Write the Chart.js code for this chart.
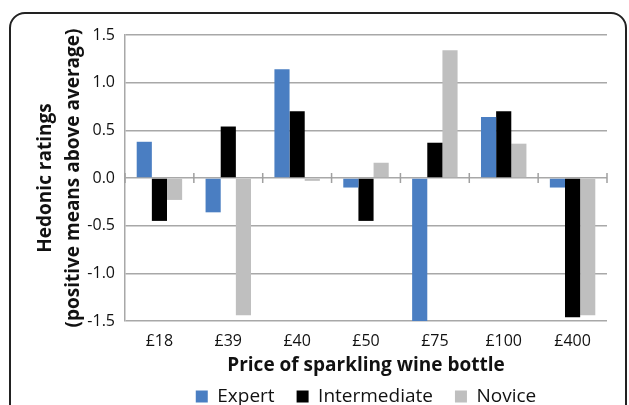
<!DOCTYPE html>
<html>
<head>
<meta charset="utf-8">
<script src="https://cdn.jsdelivr.net/npm/chart.js@4"></script>
<style>
  html, body { margin: 0; padding: 0; background: #fff; }
  #wrap { position: relative; width: 629px; height: 405px; overflow: hidden; }
  #frame { position: absolute; left: 9px; top: 12px; width: 614px; height: 420px;
           border: 2px solid #222; border-radius: 16px; }
  canvas { position: absolute; left: 0; top: 0; }
</style>
</head>
<body>
<div id="wrap">
  <div id="frame"></div>
  <canvas id="chart" width="629" height="405"></canvas>
</div>
<script>
var categories = ['£18', '£39', '£40', '£50', '£75', '£100', '£400'];
var expert = [0.38, -0.36, 1.14, -0.10, -1.5, 0.64, -0.10];
var intermediate = [-0.45, 0.54, 0.70, -0.45, 0.37, 0.70, -1.46];
var novice = [-0.23, -1.44, -0.03, 0.16, 1.34, 0.36, -1.44];
var yTicks = [-1.5, -1.0, -0.5, 0.0, 0.5, 1.0, 1.5];

var fontFamily = '"Open Sans", "Noto Sans", sans-serif';

// small tick marks on the zero line between categories
var zeroTicks = {
    id: 'zeroTicks',
    beforeDatasetsDraw: function(chart) {
        var ctx = chart.ctx;
        var x = chart.scales.x;
        var y0 = chart.scales.y.getPixelForValue(0);
        var step = x.getPixelForValue(1) - x.getPixelForValue(0);
        ctx.save();
        ctx.strokeStyle = '#a0a0a0';
        ctx.lineWidth = 1.5;
        ctx.beginPath();
        for (var i = 0; i <= categories.length; i++) {
            var px = x.getPixelForValue(0) - step / 2 + i * step;
            ctx.moveTo(px, y0 - 5);
            ctx.lineTo(px, y0 + 5);
        }
        ctx.stroke();
        ctx.restore();
    }
};

var ctx = document.getElementById('chart').getContext('2d');
var myChart = new Chart(ctx, {
    type: 'bar',
    data: {
        labels: categories,
        datasets: [
            { label: 'Expert', data: expert, backgroundColor: '#4a7ec2' },
            { label: 'Intermediate', data: intermediate, backgroundColor: '#000000' },
            { label: 'Novice', data: novice, backgroundColor: '#bfbfbf' }
        ]
    },
    options: {
        responsive: false,
        animation: false,
        datasets: {
            bar: { categoryPercentage: 0.66, barPercentage: 1.0 }
        },
        layout: { padding: { left: 31, top: 35, right: 22, bottom: -11 } },
        plugins: {
            legend: {
                position: 'bottom',
                fullSize: false,
                labels: {
                    boxWidth: 12,
                    boxHeight: 12,
                    padding: 22,
                    color: '#111',
                    font: { family: fontFamily, size: 19 }
                }
            },
            tooltip: { enabled: false }
        },
        scales: {
            x: {
                grid: { display: false },
                border: { display: false },
                ticks: { color: '#111', padding: 3, font: { family: fontFamily, size: 16 } },
                title: {
                    display: true,
                    text: 'Price of sparkling wine bottle',
                    color: '#111',
                    padding: { top: 0, bottom: -12 },
                    font: { family: fontFamily, size: 19, weight: 'bold' }
                },
                afterFit: function(scale) { scale.height = 44; }
            },
            y: {
                min: -1.5,
                max: 1.5,
                afterBuildTicks: function(scale) {
                    scale.ticks = yTicks.map(function(v) { return { value: v }; });
                },
                grid: { color: '#a8a8a8', lineWidth: 1.5, drawTicks: false },
                border: { color: '#a8a8a8', width: 1.5 },
                ticks: {
                    color: '#111',
                    padding: 10,
                    font: { family: fontFamily, size: 16 },
                    callback: function(v) { return Number(v).toFixed(1); }
                },
                title: {
                    display: true,
                    text: ['Hedonic ratings', '(positive means above average)'],
                    color: '#111',
                    padding: { top: 0, bottom: 0 },
                    font: { family: fontFamily, size: 19, weight: 'bold', lineHeight: 1.5 }
                },
                afterFit: function(scale) { scale.width = 94; }
            }
        }
    },
    plugins: [zeroTicks]
});
</script>
</body>
</html>
